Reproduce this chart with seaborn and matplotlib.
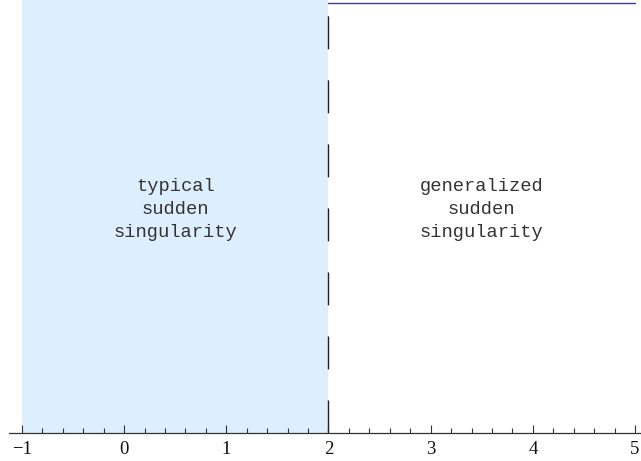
import matplotlib
matplotlib.use("Agg")
import matplotlib.pyplot as plt
import seaborn as sns
import pandas as pd
import numpy as np
from matplotlib.ticker import FixedLocator

# data
shade_x = [-1, 2]
boundary_x = [2, 2]
boundary_y = [0, 1]
top_x = [2, 5]
top_y = [1, 1]
region_labels = ["typical\nsudden\nsingularity", "generalized\nsudden\nsingularity"]
label_x = [0.5, 3.5]
label_y = [0.519, 0.519]
major_ticks = [-1, 0, 1, 2, 3, 4, 5]
tick_labels = ["\u22121", "0", "1", "2", "3", "4", "5"]

sns.set_theme(style="white")
plt.rcParams["font.family"] = ["Liberation Serif", "DejaVu Serif"]

fig = plt.figure(figsize=(6.41, 4.61), dpi=100)
ax = fig.add_axes([0, 0, 1, 1])

ax.fill_between(shade_x, 0, 1.2, color="#ddeeff", linewidth=0, zorder=0)

top_df = pd.DataFrame({"x": top_x, "y": top_y})
sns.lineplot(data=top_df, x="x", y="y", ax=ax, color="#3d3d99", linewidth=1.0)

bnd_df = pd.DataFrame({"x": boundary_x, "y": boundary_y})
sns.lineplot(data=bnd_df, x="x", y="y", ax=ax, color="#222222", linewidth=1.0,
             sort=False, estimator=None)
ax.lines[-1].set_dashes((23.8, 22.3))

for txt, x, y in zip(region_labels, label_x, label_y):
    ax.text(x, y, txt, ha="center", va="center", fontsize=13.5,
            family=["Liberation Mono", "DejaVu Sans Mono"], color="#333333",
            linespacing=1.45)

ax.set_xlim(-1.2153, 5.0587)
ax.set_ylim(-0.0651, 1.007)

for s in ["left", "right", "top"]:
    ax.spines[s].set_visible(False)
ax.spines["bottom"].set_position(("data", 0))
ax.spines["bottom"].set_bounds(-1.127, 5.06)
ax.spines["bottom"].set_color("#333333")
ax.spines["bottom"].set_linewidth(0.9)

ax.set_xticks(major_ticks)
ax.set_xticklabels(tick_labels)
minor = [v for v in np.round(np.arange(-1, 5.01, 0.2), 2) if abs(v - round(v)) > 1e-6]
ax.xaxis.set_minor_locator(FixedLocator(minor))
ax.tick_params(axis="x", which="major", direction="in", length=5.8, width=0.8,
               color="#333333", labelsize=13.5, pad=5.5, bottom=True,
               labelcolor="#111111")
ax.tick_params(axis="x", which="minor", direction="in", length=3.6, width=0.8,
               color="#333333", bottom=True)
ax.set_yticks([])
ax.set_xlabel("")
ax.set_ylabel("")

fig.savefig("out.png", dpi=100)
